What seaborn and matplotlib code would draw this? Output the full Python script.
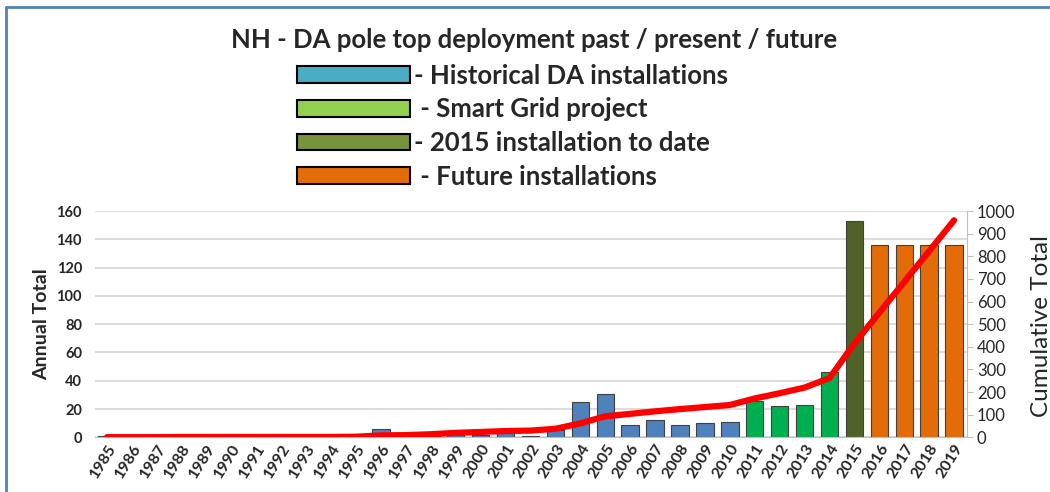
import numpy as np
import pandas as pd
import matplotlib
matplotlib.use("Agg")
import matplotlib.pyplot as plt
import seaborn as sns
from matplotlib.patches import Patch
from matplotlib.lines import Line2D

# data
years = [str(y) for y in range(1985, 2020)]
annual = [1, 0, 0, 0, 0, 0, 0, 0, 0, 0, 0, 6, 0, 1, 2, 2, 3, 1, 5, 25,
          31, 9, 12, 9, 10, 11, 26, 22, 23, 46, 153, 136, 136, 136, 136]
cumulative = [1, 1, 1, 2, 2, 2, 2, 2, 2, 2, 3, 9, 10, 14, 20, 24, 28, 30, 38, 62,
              93, 104, 115, 125, 134, 143, 172, 195, 220, 262, 415, 551, 687, 823, 959]
groups = ["Historical"] * 26 + ["Smart Grid"] * 4 + ["2015"] + ["Future"] * 4
group_names = ["Historical", "Smart Grid", "2015", "Future"]
bar_colors = ["#4F81BD", "#00B050", "#4F6228", "#E36C09"]
legend_labels = ["- Historical DA installations", " - Smart Grid project",
                 "- 2015 installation to date", " - Future installations"]
legend_colors = ["#4BACC6", "#92D050", "#77933C", "#E36C09"]

sns.set_style("white")
plt.rcParams["font.family"] = ["Lato", "DejaVu Sans"]

df = pd.DataFrame({"year": years, "annual": annual, "group": groups})

fig = plt.figure(figsize=(10.5, 4.92), dpi=100)
ax = fig.add_axes([0.09, 0.111, 0.8305, 0.4601])

sns.barplot(data=df, x="year", y="annual", hue="group", hue_order=group_names,
            palette=bar_colors, saturation=1, dodge=False, width=0.7,
            edgecolor="#404040", linewidth=0.8, legend=False, ax=ax)
ax.set_ylim(0, 160)
ax.set_yticks(range(0, 161, 20))
ax.yaxis.grid(True, color="#D9D9D9", lw=1.3)
ax.set_axisbelow(True)
for s in ["top", "left", "right"]:
    ax.spines[s].set_visible(False)
ax.spines["bottom"].set_color("#BFBFBF")
ax.tick_params(axis="y", length=0, pad=9, labelsize=10.5)
ax.tick_params(axis="x", length=0, pad=3, labelsize=11.5)
for t in ax.get_yticklabels():
    t.set_fontweight("bold")
plt.setp(ax.get_xticklabels(), rotation=58, ha="right", rotation_mode="anchor",
         fontweight="bold")
ax.set_xlabel("")
ax.set_ylabel("")

# cumulative line on the right axis
ax2 = ax.twinx()
sns.lineplot(x=np.arange(len(years)), y=cumulative, color="#FF0000", lw=4.5, ax=ax2)
ax2.set_ylim(0, 1000)
ax2.set_yticks(range(0, 1001, 100))
ax2.set_xlim(-0.5, len(years) - 0.5)
for s in ["top", "left", "bottom"]:
    ax2.spines[s].set_visible(False)
ax2.spines["right"].set_color("#BFBFBF")
ax2.tick_params(axis="y", length=4, color="#BFBFBF", labelsize=12, labelcolor="#262626")
ax2.set_ylabel("")

fig.text(0.040, 0.341, "Annual Total", rotation=90, ha="center", va="center",
         fontsize=14, fontweight="bold")
fig.text(0.992, 0.337, "Cumulative Total", rotation=90, ha="center", va="center",
         fontsize=17.5)

fig.text(0.509, 0.919, "NH - DA pole top deployment past / present / future",
         ha="center", va="center", fontsize=18.5, fontweight="bold")

handles = [Patch(facecolor=c, edgecolor="black", lw=1.5) for c in legend_colors]
fig.legend(handles, legend_labels, loc="upper left", bbox_to_anchor=(0.2706, 0.897),
           frameon=False, prop={"size": 18.5, "weight": "bold"}, handlelength=4.4,
           handleheight=0.62, labelspacing=0.38, handletextpad=0.15, borderpad=0)

# thin blue frame at top and left
fig.add_artist(Line2D([0.006, 1.0], [0.986, 0.986], color="#4F81BD", lw=2))
fig.add_artist(Line2D([0.006, 0.006], [0.0, 0.986], color="#4F81BD", lw=2))

fig.savefig("out.png", dpi=100)
